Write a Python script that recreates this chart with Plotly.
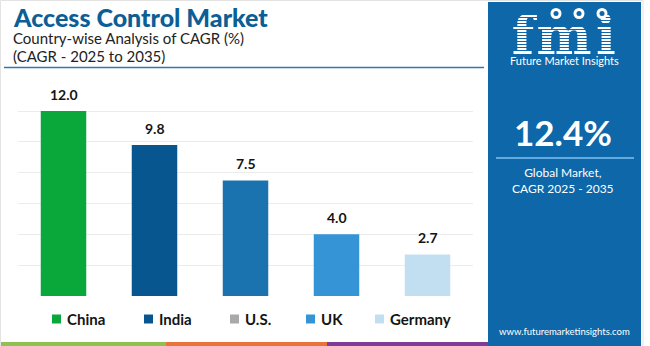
import plotly.graph_objects as go

# ---- data -------------------------------------------------------------
countries = ["China", "India", "U.S.", "UK", "Germany"]
cagr = [12.0, 9.8, 7.5, 4.0, 2.7]
bar_colors = ["#0aa83a", "#08568f", "#1a72ae", "#3494d6", "#c2dff2"]
legend_colors = ["#0aa83a", "#08568f", "#a9a9a9", "#3494d6", "#c2dff2"]
y_ticks = [0, 2, 4, 6, 8, 10, 12, 14]
global_cagr = 12.4

title = "Access Control Market"
subtitle = ["Country-wise Analysis of CAGR (%)", "(CAGR - 2025 to 2035)"]
panel_caption = ["Global Market,", "CAGR 2025 - 2035"]
logo_letters = ["f", "m", "i"]
brand = "Future Market Insights"
site = "www.futuremarketinsights.com"

# ---- canvas helpers (pixel -> paper) ---------------------------------
W, H = 650, 346


def fx(p):
    return p / W


def fy(p):
    return 1 - p / H


FONT = "Lato, sans-serif"
BLUE_PANEL = "#0d67a9"
INK = "#141414"

fig = go.Figure()

fig.add_trace(go.Bar(
    x=countries, y=cagr, width=0.5,
    marker=dict(color=bar_colors, line=dict(width=0)),
    showlegend=False, hoverinfo="skip",
))

# logo word-mark drawn as a text trace (pixel-unit axes) so the striping
# shapes can sit above it
fig.add_trace(go.Scatter(
    x=[523, 564, 606], y=[40.5, 40.5, 40.5], mode="text", text=logo_letters,
    textfont=dict(family="DejaVu Serif", size=52, color="white", weight="bold"),
    textposition="middle center", xaxis="x2", yaxis="y2",
    showlegend=False, hoverinfo="skip", cliponaxis=False,
))

shapes = []
annotations = []

# outer frame
shapes.append(dict(type="rect", xref="paper", yref="paper",
                   x0=fx(0.5), x1=fx(643), y0=fy(346), y1=fy(0.5),
                   line=dict(color="#e3e3e3", width=1), layer="below"))

# right-hand panel
shapes.append(dict(type="rect", xref="paper", yref="paper",
                   x0=fx(488), x1=fx(641), y0=fy(346), y1=fy(2),
                   fillcolor=BLUE_PANEL, line=dict(width=0), layer="below"))

# stripes across the logo letters
for yy in range(14, 52, 3):
    shapes.append(dict(type="line", xref="paper", yref="paper",
                       x0=fx(500), x1=fx(630), y0=fy(yy + 0.5), y1=fy(yy + 0.5),
                       line=dict(color=BLUE_PANEL, width=1), layer="above"))

# small globe icons above the logo
for cx in (556, 579, 602):
    shapes.append(dict(type="circle", xref="paper", yref="paper",
                       x0=fx(cx - 5.5), x1=fx(cx + 5.5), y0=fy(19), y1=fy(8),
                       fillcolor="white", line=dict(width=0), layer="above"))
    shapes.append(dict(type="circle", xref="paper", yref="paper",
                       x0=fx(cx - 2.5), x1=fx(cx + 2.5), y0=fy(16), y1=fy(11),
                       fillcolor=BLUE_PANEL, line=dict(width=0), layer="above"))

# rule under the subtitle
shapes.append(dict(type="line", xref="paper", yref="paper",
                   x0=fx(4), x1=fx(484), y0=fy(67.5), y1=fy(67.5),
                   line=dict(color="#2e78b2", width=1.5)))

# rule under the headline figure
shapes.append(dict(type="line", xref="paper", yref="paper",
                   x0=fx(496), x1=fx(634), y0=fy(158), y1=fy(158),
                   line=dict(color="#62abe0", width=2)))

# bottom colour strip
for (a, b, c) in ((1, 166, "#8dc152"), (166, 327, "#e8743b"), (327, 488, "#7d3c98")):
    shapes.append(dict(type="rect", xref="paper", yref="paper",
                       x0=fx(a), x1=fx(b), y0=fy(346), y1=fy(342),
                       fillcolor=c, line=dict(width=0)))

# legend built from the category list
legend_marker_x = [52, 144, 230, 306, 375]
for name, col, lx in zip(countries, legend_colors, legend_marker_x):
    shapes.append(dict(type="rect", xref="paper", yref="paper",
                       x0=fx(lx), x1=fx(lx + 9), y0=fy(323.5), y1=fy(314.5),
                       fillcolor=col, line=dict(width=0)))
    annotations.append(dict(xref="paper", yref="paper", x=fx(lx + 13), y=fy(319),
                            xanchor="left", yanchor="middle", showarrow=False,
                            text=name,
                            font=dict(family=FONT, size=15, color=INK, weight="bold")))

# value labels above bars
for name, v in zip(countries, cagr):
    annotations.append(dict(xref="x", yref="y", x=name, y=v, yanchor="bottom",
                            yshift=6, showarrow=False, text=f"{v:.1f}",
                            font=dict(family=FONT, size=14, color=INK, weight="bold")))

# headings
annotations.append(dict(xref="paper", yref="paper", x=fx(11), y=fy(16.5),
                        xanchor="left", yanchor="middle", showarrow=False,
                        text=title,
                        font=dict(family=FONT, size=25, color="#0b5e96", weight=900)))
annotations.append(dict(xref="paper", yref="paper", x=fx(11), y=fy(38),
                        xanchor="left", yanchor="middle", showarrow=False,
                        text=subtitle[0],
                        font=dict(family=FONT, size=15, color="#222222")))
annotations.append(dict(xref="paper", yref="paper", x=fx(11), y=fy(56),
                        xanchor="left", yanchor="middle", showarrow=False,
                        text=subtitle[1],
                        font=dict(family=FONT, size=15, color="#222222")))

# panel text
annotations.append(dict(xref="paper", yref="paper", x=fx(564), y=fy(60),
                        xanchor="center", yanchor="middle", showarrow=False,
                        text=brand, font=dict(family=FONT, size=11, color="white")))
annotations.append(dict(xref="paper", yref="paper", x=fx(563), y=fy(132),
                        xanchor="center", yanchor="middle", showarrow=False,
                        text=f"{global_cagr:.1f}%",
                        font=dict(family=FONT, size=35, color="white", weight="bold")))
annotations.append(dict(xref="paper", yref="paper", x=fx(563), y=fy(180),
                        xanchor="center", yanchor="middle", showarrow=False,
                        text="<br>".join(panel_caption),
                        font=dict(family=FONT, size=12, color="white")))
annotations.append(dict(xref="paper", yref="paper", x=fx(564), y=fy(331),
                        xanchor="center", yanchor="middle", showarrow=False,
                        text=site, font=dict(family=FONT, size=9.5, color="white")))

fig.update_layout(
    width=W, height=H,
    margin=dict(l=0, r=0, t=0, b=0),
    paper_bgcolor="white", plot_bgcolor="rgba(0,0,0,0)",
    bargap=0.5,
    xaxis=dict(domain=[fx(18), fx(473)], range=[-0.5, 4.5], showticklabels=False,
               showgrid=False, zeroline=False, showline=False, ticks=""),
    yaxis=dict(domain=[fy(296), fy(80)], range=[0, 14.02], tickvals=y_ticks,
               showticklabels=False, showgrid=True, gridcolor="#ececec",
               gridwidth=1, zeroline=False, showline=False, ticks=""),
    xaxis2=dict(domain=[fx(488), fx(641)], range=[488, 641], visible=False,
                anchor="y2", fixedrange=True),
    yaxis2=dict(domain=[fy(70), fy(0)], range=[70, 0], visible=False,
                anchor="x2", fixedrange=True),
    shapes=shapes,
    annotations=annotations,
    showlegend=False,
)

fig.write_html("out.html", config={"displayModeBar": False})
